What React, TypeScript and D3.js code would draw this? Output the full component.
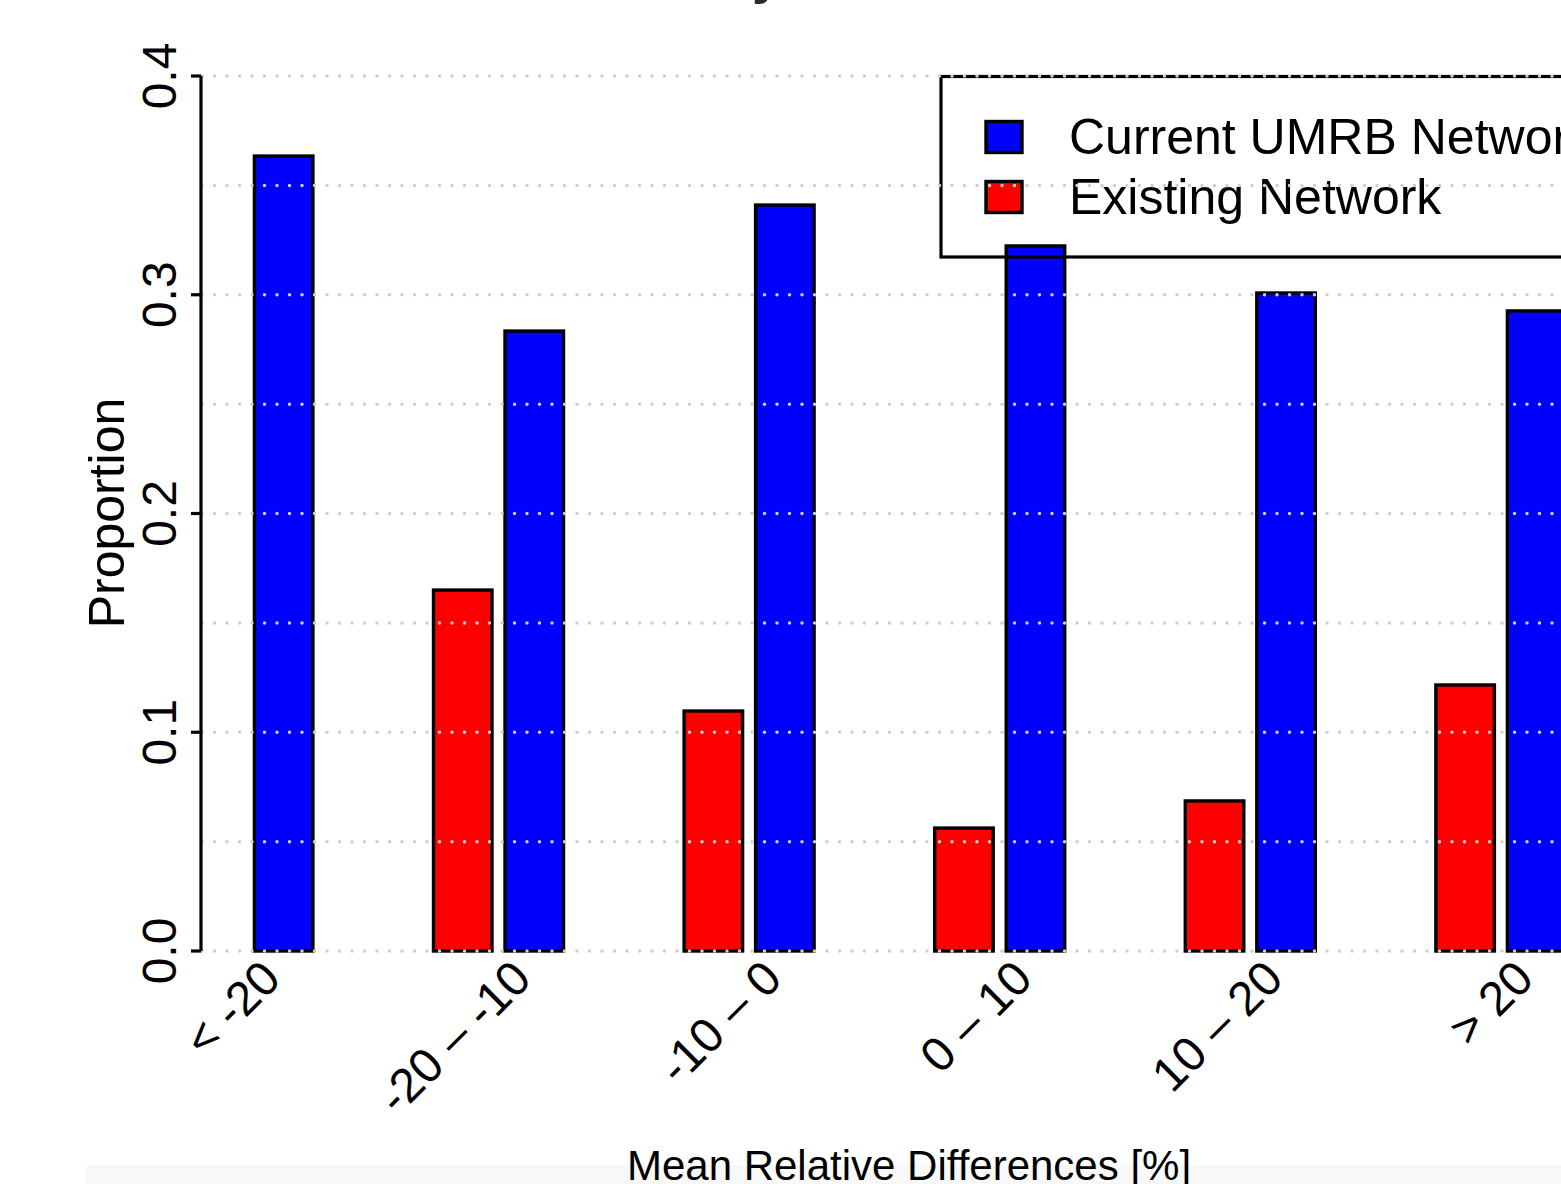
import React from "react";
import * as d3 from "d3";

// Binned mean relative differences and the share of sites in each bin
const categories = ["< -20", "-20 – -10", "-10 – 0", "0 – 10", "10 – 20", "> 20"];
const existingNetwork = [0, 0.165, 0.1097, 0.0562, 0.0686, 0.1216];
const currentNetwork = [0.3634, 0.2834, 0.341, 0.3223, 0.3008, 0.2926];
const seriesKeys = ["existing", "current"];
const seriesLabels = ["Current UMRB Network", "Existing Network"];
const yTicks = [0, 0.1, 0.2, 0.3, 0.4];
const gridValues = [0, 0.05, 0.1, 0.15, 0.2, 0.25, 0.3, 0.35, 0.4];

const W = 1561;
const H = 1184;
const FONT = "'Liberation Sans', Arial, Helvetica, sans-serif";

export default function App() {
  const y = d3.scaleLinear().domain([0, 0.4]).range([951, 76]);
  const x0 = d3
    .scaleBand<string>()
    .domain(categories)
    .range([182.9, 1565.9])
    .paddingInner(0.4812)
    .paddingOuter(0);
  const x1 = d3
    .scaleBand<string>()
    .domain(seriesKeys)
    .range([0, x0.bandwidth()])
    .paddingInner(0.1818)
    .paddingOuter(0);
  const colors: Record<string, string> = { existing: "#ff0000", current: "#0000ff" };
  const values: Record<string, number[]> = { existing: existingNetwork, current: currentNetwork };
  const fmt = d3.format(".1f");

  const axisX = 201;

  return (
    <svg
      width={W}
      height={H}
      style={{ position: "absolute", left: 0, top: 0, background: "#ffffff" }}
      fontFamily={FONT}
    >
      <rect x={0} y={0} width={W} height={H} fill="#ffffff" />
      <rect x={86} y={1165} width={W - 86} height={H - 1165} fill="#f8f8f8" />

      {/* title descender peeking in at the top edge */}
      <text x={752} y={-7} fontSize={54} fontWeight="bold" fill="#2b2b2b">
        y
      </text>

      {/* bars */}
      {categories.map((c, i) => (
        <g key={c} transform={`translate(${x0(c)},0)`}>
          {seriesKeys.map((k) => {
            const v = values[k][i];
            if (v <= 0) return null;
            return (
              <rect
                key={k}
                x={x1(k)}
                y={y(v)}
                width={x1.bandwidth()}
                height={y(0) - y(v)}
                fill={colors[k]}
                stroke="#000"
                strokeWidth={3.4}
              />
            );
          })}
        </g>
      ))}

      {/* legend */}
      <g>
        <rect x={941} y={76.5} width={800} height={180.5} fill="none" stroke="#000" strokeWidth={3.2} />
        {["current", "existing"].map((k, i) => {
          const cy = 137 + i * 60;
          return (
            <g key={k}>
              <rect x={986} y={cy - 15.5} width={36} height={31} fill={colors[k]} stroke="#000" strokeWidth={3.4} />
              <text x={1069} y={cy + 17} fontSize={50} fill="#000">
                {seriesLabels[i]}
              </text>
            </g>
          );
        })}
      </g>

      {/* dotted reference lines drawn on top */}
      {gridValues.map((g) => (
        <line
          key={g}
          x1={202}
          x2={W}
          y1={y(g)}
          y2={y(g)}
          stroke="#cfcfcf"
          strokeWidth={3.5}
          strokeLinecap="round"
          strokeDasharray="0 12.5"
        />
      ))}

      {/* y axis */}
      <line x1={axisX} x2={axisX} y1={y(0.4)} y2={y(0)} stroke="#000" strokeWidth={3.2} />
      {yTicks.map((t) => (
        <g key={t}>
          <line x1={axisX - 10} x2={axisX} y1={y(t)} y2={y(t)} stroke="#000" strokeWidth={3.2} />
          <text
            transform={`translate(176,${y(t)}) rotate(-90)`}
            textAnchor="middle"
            fontSize={48}
            fill="#000"
          >
            {fmt(t)}
          </text>
        </g>
      ))}
      <text transform={`translate(124,513) rotate(-90)`} textAnchor="middle" fontSize={50} fill="#000">
        Proportion
      </text>

      {/* x category labels */}
      {categories.map((c) => {
        const cx = (x0(c) as number) + x0.bandwidth() / 2;
        return (
          <text
            key={c}
            transform={`translate(${cx + 35},981) rotate(-45)`}
            textAnchor="end"
            fontSize={48}
            fill="#000"
          >
            {c}
          </text>
        );
      })}
      <text x={909} y={1180} textAnchor="middle" fontSize={42} fill="#000">
        Mean Relative Differences [%]
      </text>
    </svg>
  );
}
